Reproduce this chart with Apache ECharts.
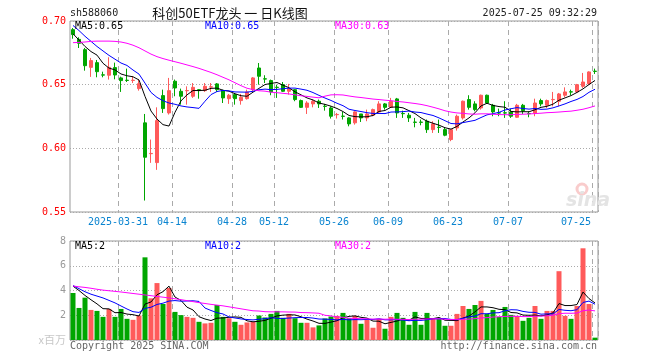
<!DOCTYPE html>
<html><head><meta charset="utf-8">
<script src="https://cdn.jsdelivr.net/npm/echarts@6/dist/echarts.min.js"></script>
<style>html,body{margin:0;padding:0;background:#fff}#c{width:660px;height:360px}</style>
</head><body><div id="c"></div>
<script>
// ---- data ----
const dates = [
'2025-03-19','2025-03-20','2025-03-21','2025-03-24','2025-03-25','2025-03-26','2025-03-27','2025-03-28','2025-03-31',
'2025-04-01','2025-04-02','2025-04-03','2025-04-07','2025-04-08','2025-04-09','2025-04-10','2025-04-11',
'2025-04-14','2025-04-15','2025-04-16','2025-04-17','2025-04-18','2025-04-21','2025-04-22','2025-04-23','2025-04-24','2025-04-25',
'2025-04-28','2025-04-29','2025-04-30','2025-05-06','2025-05-07','2025-05-08','2025-05-09',
'2025-05-12','2025-05-13','2025-05-14','2025-05-15','2025-05-16','2025-05-19','2025-05-20','2025-05-21','2025-05-22','2025-05-23',
'2025-05-26','2025-05-27','2025-05-28','2025-05-29','2025-05-30','2025-06-03','2025-06-04','2025-06-05','2025-06-06',
'2025-06-09','2025-06-10','2025-06-11','2025-06-12','2025-06-13','2025-06-16','2025-06-17','2025-06-18','2025-06-19','2025-06-20',
'2025-06-23','2025-06-24','2025-06-25','2025-06-26','2025-06-27','2025-06-30','2025-07-01','2025-07-02','2025-07-03','2025-07-04',
'2025-07-07','2025-07-08','2025-07-09','2025-07-10','2025-07-11','2025-07-14','2025-07-15','2025-07-16','2025-07-17','2025-07-18',
'2025-07-21','2025-07-22','2025-07-23','2025-07-24','2025-07-25'];
const xTickDates = ['2025-03-31','2025-04-14','2025-04-28','2025-05-12','2025-05-26','2025-06-09','2025-06-23','2025-07-07','2025-07-25'];

const openP = [
.6932,.6856,.6775,.6636,.6673,.6577,.6574,.6634,.6553,.6535,
.6533,.6469,.6200,.5958,.5888,.6414,.6278,.6527,.6448,.6452,
.6409,.6461,.6453,.6481,.6506,.6453,.6390,.6422,.6375,.6390,
.6461,.6631,.6546,.6532,.6480,.6500,.6448,.6461,.6375,.6322,
.6349,.6370,.6331,.6317,.6264,.6253,.6239,.6200,.6270,.6239,
.6260,.6286,.6349,.6322,.6388,.6274,.6260,.6206,.6206,.6213,
.6147,.6166,.6147,.6069,.6160,.6239,.6383,.6349,.6317,.6417,
.6338,.6279,.6279,.6286,.6244,.6338,.6274,.6278,.6375,.6338,
.6382,.6370,.6417,.6444,.6443,.6487,.6506,.6606];
const closeP = [
.6893,.6825,.6649,.6689,.6602,.6575,.6636,.6576,.6532,.6533,
.6535,.6508,.5930,.5960,.6218,.6312,.6453,.6474,.6409,.6454,
.6479,.6453,.6487,.6483,.6461,.6396,.6417,.6390,.6401,.6443,
.6553,.6566,.6544,.6443,.6478,.6448,.6469,.6383,.6322,.6356,
.6370,.6349,.6329,.6252,.6266,.6251,.6192,.6286,.6239,.6270,
.6304,.6349,.6322,.6370,.6278,.6272,.6239,.6204,.6204,.6147,
.6192,.6164,.6103,.6147,.6252,.6370,.6322,.6304,.6417,.6356,
.6286,.6277,.6277,.6252,.6338,.6296,.6272,.6356,.6349,.6375,
.6384,.6427,.6443,.6442,.6500,.6521,.6600,.6604];
const lowP = [
.6861,.6788,.6610,.6561,.6558,.6558,.6540,.6542,.6443,.6521,
.6513,.6453,.5590,.5886,.5831,.6278,.6265,.6409,.6343,.6343,
.6396,.6390,.6443,.6443,.6443,.6356,.6349,.6343,.6343,.6383,
.6448,.6500,.6513,.6417,.6396,.6443,.6422,.6370,.6317,.6270,
.6322,.6317,.6296,.6234,.6234,.6226,.6173,.6186,.6207,.6213,
.6252,.6278,.6304,.6317,.6239,.6239,.6207,.6165,.6181,.6121,
.6121,.6121,.6095,.6056,.6139,.6226,.6304,.6291,.6304,.6349,
.6252,.6252,.6239,.6239,.6239,.6270,.6244,.6252,.6330,.6317,
.6330,.6330,.6401,.6417,.6435,.6474,.6500,.6584];
const highP = [
.6945,.6872,.6788,.6710,.6694,.6602,.6715,.6673,.6563,.6626,
.6566,.6540,.6270,.6069,.6322,.6461,.6553,.6540,.6469,.6487,
.6513,.6466,.6513,.6513,.6513,.6461,.6427,.6435,.6427,.6461,
.6560,.6670,.6574,.6540,.6500,.6521,.6506,.6466,.6383,.6370,
.6383,.6383,.6349,.6330,.6278,.6286,.6244,.6291,.6270,.6304,
.6312,.6370,.6356,.6396,.6396,.6296,.6278,.6239,.6226,.6226,
.6213,.6226,.6160,.6152,.6265,.6375,.6417,.6370,.6422,.6422,
.6349,.6312,.6370,.6312,.6349,.6349,.6291,.6390,.6390,.6383,
.6443,.6435,.6479,.6461,.6506,.6592,.6605,.6626];
const volume = [
3.80,2.59,3.42,2.43,2.35,1.87,2.51,1.87,2.51,1.71,
1.63,1.98,6.68,3.37,4.60,2.91,4.20,2.27,2.01,1.87,
1.79,1.47,1.34,1.39,2.83,1.87,1.76,1.47,1.23,1.42,
1.47,1.98,1.82,2.11,2.35,1.79,2.11,1.76,1.39,1.39,
1.02,1.18,1.74,1.90,1.95,2.19,1.76,1.95,1.31,1.63,
0.99,1.71,0.91,1.87,2.19,1.79,1.23,2.27,1.23,2.19,
1.71,1.71,1.15,1.15,2.11,2.75,2.51,2.83,3.16,2.11,
2.43,1.87,2.67,2.03,1.95,1.55,1.79,2.75,1.71,2.35,
2.35,5.56,1.95,1.71,2.75,7.41,2.91,0.19];

// moving-average values before the window is full (they depend on earlier days)
const ma5Head  = [.6900,.6850,.6800,.6760];
const ma10Head = [.6965,.6925,.6880,.6840,.6800,.6765,.6730,.6700,.6670];
const ma30Head = [.6830,.6832,.6835,.6840,.6842,.6842,.6842,.6840,.6835,.6825,
                  .6810,.6790,.6765,.6740,.6720,.6705,.6692,.6680,.6668,.6655,
                  .6642,.6628,.6612,.6596,.6578,.6558,.6538,.6515,.6492];
const vma5Head  = [4.35,4.00,3.60,3.25];
const vma10Head = [4.40,4.15,3.90,3.70,3.55,3.40,3.20,3.00,2.75];
const vma30Head = [4.36,4.30,4.25,4.18,4.10,4.03,3.98,3.93,3.88,3.82,
                   3.76,3.70,3.64,3.58,3.52,3.46,3.40,3.33,3.26,3.18,
                   3.10,3.02,2.95,2.88,2.82,2.76,2.68,2.60,2.52];
const priceTicks = [0.55, 0.60, 0.65, 0.70];
const volTicks = [0, 2, 4, 6, 8];

// ---- derived ----
function movingAvg(vals, n, head){
  return vals.map((v,i)=>{
    if(i < n-1) return head[i];
    let s=0; for(let k=i-n+1;k<=i;k++) s+=vals[k];
    return +(s/n).toFixed(4);
  });
}
const ma5 = movingAvg(closeP,5,ma5Head), ma10 = movingAvg(closeP,10,ma10Head), ma30 = movingAvg(closeP,30,ma30Head);
const vma5 = movingAvg(volume,5,vma5Head), vma10 = movingAvg(volume,10,vma10Head), vma30 = movingAvg(volume,30,vma30Head);

const RED='#ff5a5a', GREEN='#00a600';
const candles = dates.map((d,i)=>[openP[i],closeP[i],lowP[i],highP[i]]);
const volBars = dates.map((d,i)=>({value:volume[i], itemStyle:{color: closeP[i]>=openP[i]?RED:GREEN}}));
const tickIdx = xTickDates.map(d=>dates.indexOf(d));
const isTick = (i)=>tickIdx.indexOf(i)>=0;

const MONO = '"DejaVu Sans Mono", "Liberation Mono", monospace';
const L = 70, W = 528;
const last = a => a[a.length-1];

const chart = echarts.init(document.getElementById('c'), null, {renderer:'canvas'});
const dashed = {show:true, interval:(i)=>isTick(i), lineStyle:{color:'#aaa', type:[5,4], width:1}};
chart.setOption({
  animation:false,
  backgroundColor:'#fff',
  grid:[
    {left:L, width:W, top:21, height:191, show:true, borderColor:'#999', borderWidth:1, backgroundColor:'transparent'},
    {left:L, width:W, top:241, height:99, show:true, borderColor:'#999', borderWidth:1, backgroundColor:'transparent'}
  ],
  xAxis:[
    {type:'category', gridIndex:0, data:dates, boundaryGap:true,
     axisLine:{show:false}, axisTick:{show:false},
     axisLabel:{interval:(i)=>isTick(i), margin:5,
       formatter:(v,i)=>{ const t = (v===xTickDates[0]) ? v : v.slice(5);
         return (v===last(xTickDates)) ? '{r|'+t+'}' : '{a|'+t+'}'; },
       rich:{a:{fontFamily:MONO,fontSize:10,color:'#0a84d0',padding:[0,6,0,0]},
             r:{fontFamily:MONO,fontSize:10,color:'#0a84d0',padding:[0,38,0,0]}}},
     splitLine:dashed},
    {type:'category', gridIndex:1, data:dates, boundaryGap:true,
     axisLine:{show:false}, axisTick:{show:false}, axisLabel:{show:false},
     splitLine:dashed}
  ],
  yAxis:[
    {type:'value', gridIndex:0, min:priceTicks[0], max:last(priceTicks), interval:0.05,
     axisLine:{show:false}, axisTick:{show:false},
     axisLabel:{color:'#ff0000', fontFamily:MONO, fontSize:10, margin:4, formatter:v=>v.toFixed(2)},
     splitLine:{lineStyle:{color:'#aaa', type:[1,2]}}},
    {type:'value', gridIndex:1, min:volTicks[0], max:last(volTicks), interval:2,
     axisLine:{show:false}, axisTick:{show:false},
     axisLabel:{color:'#999', fontFamily:MONO, fontSize:10, margin:4, formatter:v=>v===0?'':String(v)},
     splitLine:{lineStyle:{color:'#aaa', type:[1,2]}}}
  ],
  series:[
    {type:'candlestick', xAxisIndex:0, yAxisIndex:0, data:candles, barWidth:4,
     itemStyle:{color:RED, color0:GREEN, borderColor:RED, borderColor0:GREEN, borderWidth:1}},
    {type:'line', xAxisIndex:0, yAxisIndex:0, data:ma5, symbol:'none', lineStyle:{color:'#000',width:1}, z:5},
    {type:'line', xAxisIndex:0, yAxisIndex:0, data:ma10, symbol:'none', lineStyle:{color:'#0000ff',width:1}, z:5},
    {type:'line', xAxisIndex:0, yAxisIndex:0, data:ma30, symbol:'none', lineStyle:{color:'#ff00ff',width:1}, z:5},
    {type:'bar', xAxisIndex:1, yAxisIndex:1, data:volBars, barWidth:5},
    {type:'line', xAxisIndex:1, yAxisIndex:1, data:vma5, symbol:'none', lineStyle:{color:'#000',width:1}, z:5},
    {type:'line', xAxisIndex:1, yAxisIndex:1, data:vma10, symbol:'none', lineStyle:{color:'#0000ff',width:1}, z:5},
    {type:'line', xAxisIndex:1, yAxisIndex:1, data:vma30, symbol:'none', lineStyle:{color:'#ff00ff',width:1}, z:5}
  ],
  graphic:[
    {type:'text', left:70, top:8, style:{text:'sh588060', font:'10px '+MONO, fill:'#222'}},
    {type:'text', x:230, y:7, style:{text:'科创50ETF龙头 一 日K线图', font:'13px "Noto Sans CJK SC"', fill:'#111', textAlign:'center'}},
    {type:'text', x:597, y:8, style:{text:'2025-07-25 09:32:29', font:'10px '+MONO, fill:'#222', textAlign:'right'}},
    {type:'text', x:75, y:21, z:10, style:{text:'MA5:'+last(ma5).toFixed(2), font:'10px '+MONO, fill:'#000'}},
    {type:'text', x:205, y:21, z:10, style:{text:'MA10:'+last(ma10).toFixed(2), font:'10px '+MONO, fill:'#0000ff'}},
    {type:'text', x:335, y:21, z:10, style:{text:'MA30:'+last(ma30).toFixed(2), font:'10px '+MONO, fill:'#ff00ff'}},
    {type:'text', x:75, y:241, z:10, style:{text:'MA5:'+Math.floor(last(vma5)), font:'10px '+MONO, fill:'#000'}},
    {type:'text', x:205, y:241, z:10, style:{text:'MA10:'+Math.floor(last(vma10)), font:'10px '+MONO, fill:'#0000ff'}},
    {type:'text', x:335, y:241, z:10, style:{text:'MA30:'+Math.floor(last(vma30)), font:'10px '+MONO, fill:'#ff00ff'}},
    {type:'text', x:66, y:334, style:{text:'x百万', font:'11px "Noto Sans CJK SC"', fill:'#c8c8c8', textAlign:'right'}},
    {type:'text', x:70, y:341, style:{text:'Copyright 2025 SINA.COM', font:'10px '+MONO, fill:'#666'}},
    {type:'text', x:597, y:341, style:{text:'http://finance.sina.com.cn', font:'10px '+MONO, fill:'#666', textAlign:'right'}},
    {type:'circle', shape:{cx:582, cy:189, r:5}, style:{fill:'none', stroke:'#f9cccc', lineWidth:3}, z:1},
    {type:'text', x:566, y:192, z:1, style:{text:'sina', font:'italic bold 19px "DejaVu Sans"', fill:'#e4e4e4'}}
  ]
});
</script></body></html>
